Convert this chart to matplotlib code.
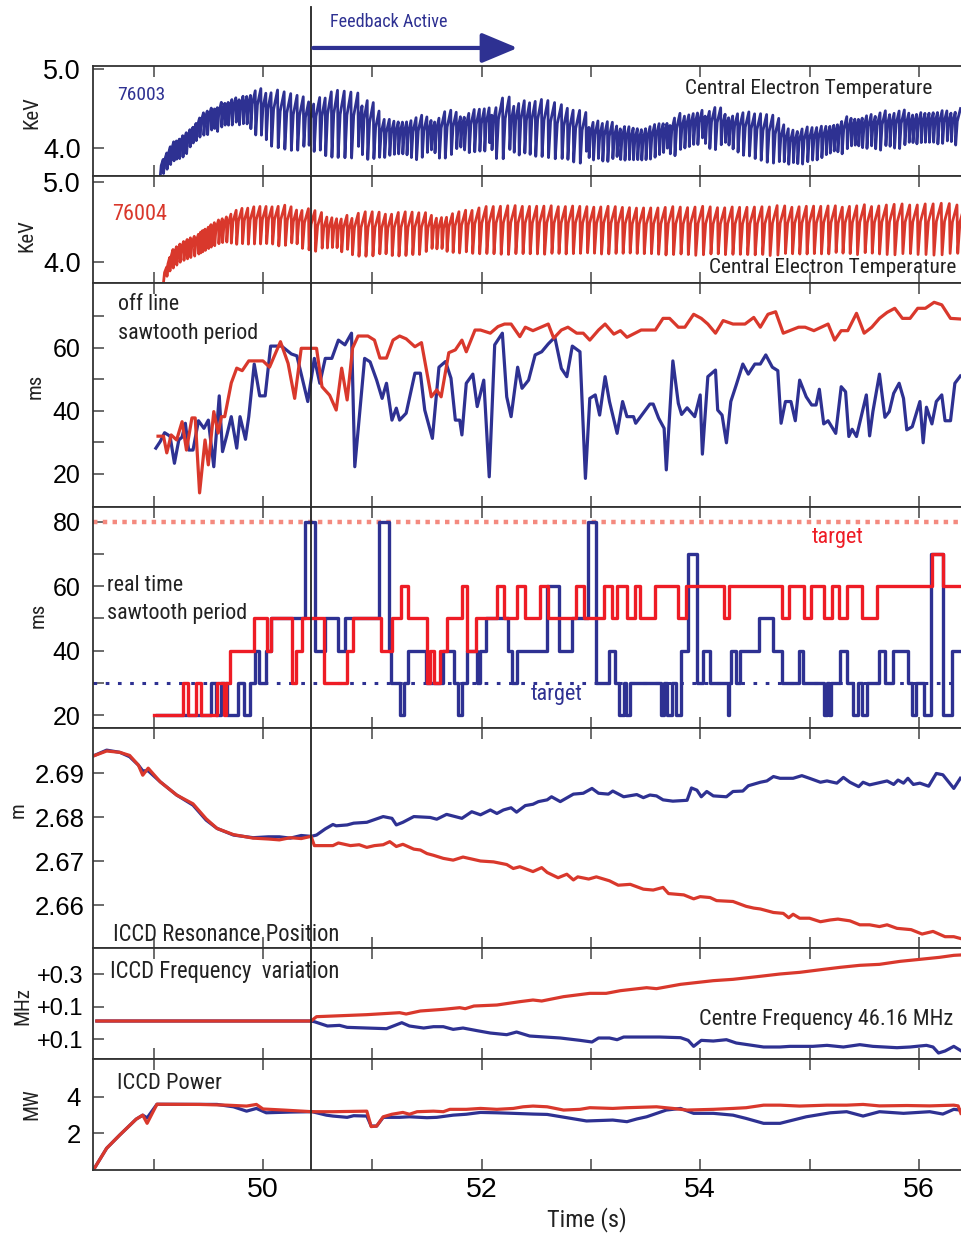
import numpy as np
import matplotlib.pyplot as plt
from matplotlib.transforms import blended_transform_factory
from matplotlib.patches import ArrowStyle

# Fonts: condensed face for annotations, regular face for numbers.
NARROW = ['Roboto Condensed', 'Liberation Sans Narrow', 'Liberation Sans']
plt.rcParams['font.family'] = ['Liberation Sans', 'DejaVu Sans']

BLUE = '#2e3192'
RED = '#d9382c'
RED_RT = '#ee1c25'
RED_TARGET = '#f48a7f'
INK = '#222222'

# Time window and start of feedback (s)
t_min, t_max = 48.445, 56.386
t_feedback = 50.44
feedback_arrow_end = 52.33

# Central electron temperature envelopes (keV), shot 76003
te_blue_t = [49.06, 49.15, 49.29, 49.42, 49.56, 49.70, 49.88, 50.06, 50.25, 50.43,
             50.61, 50.89, 51.07, 51.44, 51.89, 52.17, 52.53, 52.99, 53.45, 53.72,
             54.00, 54.27, 54.64, 54.82, 55.10, 55.37, 55.73, 56.10, 56.38]
te_blue_hi = [3.91, 4.14, 4.27, 4.48, 4.60, 4.67, 4.73, 4.67, 4.60, 4.55,
              4.65, 4.60, 4.35, 4.38, 4.46, 4.57, 4.54, 4.35, 4.27, 4.39,
              4.50, 4.44, 4.35, 4.23, 4.29, 4.42, 4.46, 4.48, 4.48]
te_blue_lo = [3.58, 3.72, 3.85, 4.10, 4.16, 4.25, 4.25, 4.10, 4.04, 4.04,
              3.97, 3.95, 3.89, 3.89, 3.97, 3.94, 3.97, 3.85, 3.81, 3.91,
              4.04, 4.00, 3.87, 3.78, 3.85, 3.97, 4.00, 4.04, 4.06]

# Central electron temperature envelopes (keV), shot 76004
te_red_t = [49.09, 49.15, 49.25, 49.40, 49.55, 49.70, 49.90, 50.10, 50.30, 50.50,
            50.80, 51.20, 51.60, 52.00, 52.50, 53.00, 53.50, 54.00, 54.50, 55.00,
            55.50, 56.00, 56.39]
te_red_hi = [4.00, 4.25, 4.35, 4.45, 4.62, 4.70, 4.72, 4.72, 4.70, 4.62,
             4.62, 4.62, 4.62, 4.68, 4.68, 4.68, 4.66, 4.66, 4.66, 4.68,
             4.68, 4.68, 4.68]
te_red_lo = [3.68, 3.80, 3.92, 4.00, 4.10, 4.18, 4.20, 4.20, 4.18, 4.12,
             4.08, 4.08, 4.10, 4.12, 4.12, 4.12, 4.12, 4.12, 4.12, 4.12,
             4.13, 4.14, 4.14]

# Off-line sawtooth period (ms)
off_blue_t = [49.02, 49.06, 49.10, 49.15, 49.19, 49.23, 49.26, 49.29, 49.32, 49.36,
              49.41, 49.46, 49.50, 49.55, 49.60, 49.63, 49.67, 49.71, 49.76, 49.79,
              49.84, 49.87, 49.92, 49.97, 50.02, 50.07, 50.17, 50.26, 50.31, 50.41,
              50.47, 50.52, 50.57, 50.63, 50.69, 50.75, 50.81, 50.84, 50.93, 50.98,
              51.04, 51.09, 51.13, 51.18, 51.22, 51.25, 51.31, 51.39, 51.44, 51.48,
              51.55, 51.61, 51.67, 51.72, 51.76, 51.80, 51.82, 51.86, 51.92, 51.96,
              51.99, 52.02, 52.07, 52.12, 52.19, 52.23, 52.27, 52.33, 52.37, 52.43,
              52.49, 52.55, 52.61, 52.67, 52.73, 52.78, 52.83, 52.90, 52.95, 52.99,
              53.04, 53.08, 53.13, 53.17, 53.24, 53.29, 53.33, 53.39, 53.41, 53.54,
              53.57, 53.62, 53.67, 53.69, 53.75, 53.80, 53.83, 53.88, 53.95, 54.00,
              54.02, 54.07, 54.14, 54.16, 54.20, 54.24, 54.28, 54.33, 54.39, 54.44,
              54.50, 54.55, 54.60, 54.66, 54.71, 54.74, 54.78, 54.83, 54.87, 54.91,
              54.97, 55.02, 55.06, 55.09, 55.13, 55.17, 55.24, 55.29, 55.33, 55.36,
              55.39, 55.43, 55.52, 55.55, 55.58, 55.64, 55.69, 55.73, 55.77, 55.82,
              55.86, 55.89, 55.94, 56.01, 56.04, 56.07, 56.12, 56.16, 56.21, 56.24,
              56.29, 56.33, 56.38]
off_blue_v = [28.2, 30.3, 33.1, 32, 23.4, 30.8, 31.7, 36.1, 27.6, 27.6,
              36.9, 34.5, 37.1, 22.3, 44.8, 27.1, 32.4, 38.2, 28.2, 38.2,
              31, 38.2, 54.9, 44.8, 44.8, 60.6, 60.6, 58.1, 57.5, 43,
              56.7, 48.8, 56.7, 56.7, 62.5, 61, 64.7, 22.3, 56.7, 55.6,
              49.8, 44, 48.8, 37.1, 40.9, 37.1, 39.3, 52, 52, 40.3,
              31.3, 53.9, 55.7, 50.4, 37.1, 37.1, 32.4, 48.8, 51.7, 41.4,
              45.6, 49.8, 19.1, 61, 64.7, 44.5, 38.2, 53.9, 47.2, 49.8,
              57.8, 58.8, 61.3, 63.4, 53.5, 50.9, 60.6, 58.8, 18.6, 44,
              45.1, 38.7, 50.9, 43, 32.9, 43, 38.2, 38.2, 36.1, 42.2,
              42.2, 37.7, 34.5, 21.3, 55.9, 42.4, 38.9, 41, 38.2, 45.1,
              26.3, 50.9, 53, 40.3, 38.7, 29.9, 43, 48.3, 54.9, 51.7,
              54.9, 54.9, 57.8, 53.9, 52.8, 36.1, 43, 43, 36.9, 49.8,
              44.5, 41.9, 41.9, 46.9, 35.9, 36.9, 32.9, 47.7, 46.1, 31.9,
              34.2, 31.9, 45.1, 32.1, 39.8, 51.7, 38, 39.8, 45.6, 48.8,
              44, 34, 35, 43, 29.9, 41.2, 35.9, 43, 45.1, 36.9,
              36.9, 48.8, 51.1]

off_red_t = [49.04, 49.09, 49.12, 49.16, 49.21, 49.26, 49.30, 49.35, 49.38, 49.42,
             49.47, 49.50, 49.55, 49.59, 49.62, 49.65, 49.71, 49.76, 49.81, 49.87,
             50.00, 50.06, 50.16, 50.23, 50.29, 50.35, 50.49, 50.54, 50.61, 50.67,
             50.72, 50.77, 50.82, 50.87, 50.96, 51.02, 51.07, 51.13, 51.19, 51.25,
             51.31, 51.39, 51.45, 51.54, 51.59, 51.63, 51.70, 51.76, 51.82, 51.86,
             51.94, 51.99, 52.08, 52.15, 52.21, 52.27, 52.35, 52.40, 52.47, 52.61,
             52.66, 52.73, 52.79, 52.87, 52.93, 52.99, 53.07, 53.13, 53.21, 53.27,
             53.33, 53.46, 53.59, 53.66, 53.72, 53.80, 53.86, 53.94, 54.01, 54.07,
             54.14, 54.21, 54.30, 54.41, 54.49, 54.55, 54.62, 54.69, 54.76, 54.90,
             54.96, 55.04, 55.17, 55.23, 55.29, 55.35, 55.43, 55.50, 55.57, 55.64,
             55.71, 55.78, 55.85, 55.92, 55.99, 56.06, 56.14, 56.21, 56.29, 56.38]
off_red_v = [32, 32, 26.7, 32.4, 30.8, 36.6, 27.6, 37.8, 37.8, 14,
             30.8, 22.9, 39.8, 33, 38.2, 38.2, 48.9, 53.6, 52.8, 55.9,
             55.9, 53.9, 62, 55.1, 44, 59.9, 59.9, 47.7, 45, 40.3,
             53.6, 43.5, 60, 63.8, 63.8, 62.5, 56.8, 56.8, 62.5, 63.8,
             62.9, 60.4, 61.7, 44.5, 46.7, 44.5, 58.5, 59.4, 62.5, 58.8,
             65.7, 65.7, 64.7, 66.8, 67.6, 67.6, 63.6, 66.6, 65.5, 67.6,
             63.1, 65.7, 66.6, 64.7, 64.7, 62.5, 65.7, 67.6, 64.4, 65.5,
             63.4, 65.7, 65.7, 69.4, 69.4, 66.6, 66.6, 70.7, 69.4, 67.6,
             64.7, 68.7, 67.6, 67.6, 69.7, 66.6, 70.7, 71.5, 64.7, 66.6,
             66.6, 65.5, 67.6, 62.5, 65.5, 65.5, 71, 64.7, 66.6, 69.4,
             71.3, 72.6, 69.4, 69.4, 72.6, 72.6, 74.5, 73.7, 69.4, 69.2]

# Real-time sawtooth period (ms): level held from each time to the next
rt_blue_t = [49.03, 49.525, 49.57, 49.615, 49.675, 49.77, 49.83, 49.88, 49.925, 49.965,
             50.025, 50.075, 50.385, 50.48, 50.57, 50.69, 50.75, 51.06, 51.15, 51.17,
             51.25, 51.29, 51.33, 51.49, 51.65, 51.75, 51.78, 51.82, 51.87, 51.96,
             51.99, 52.04, 52.24, 52.28, 52.32, 52.60, 52.71, 52.83, 52.97, 53.05,
             53.17, 53.22, 53.26, 53.30, 53.32, 53.36, 53.64, 53.67, 53.70, 53.74,
             53.775, 53.82, 53.885, 53.97, 54.03, 54.09, 54.25, 54.265, 54.285, 54.33,
             54.36, 54.535, 54.665, 54.75, 54.905, 54.945, 55.13, 55.16, 55.175, 55.195,
             55.28, 55.34, 55.40, 55.44, 55.48, 55.53, 55.635, 55.695, 55.76, 55.90,
             55.94, 55.975, 56.05, 56.115, 56.225, 56.30, 56.39]
rt_blue_v = [20, 30, 20, 30, 20, 30, 20, 30, 40, 30,
             40, 50, 80, 40, 50, 40, 50, 80, 40, 30,
             20, 30, 40, 30, 40, 30, 20, 30, 40, 30,
             40, 50, 40, 30, 40, 60, 40, 50, 80, 30,
             40, 30, 20, 30, 20, 30, 20, 30, 20, 30,
             20, 40, 70, 30, 40, 30, 20, 30, 40, 30,
             40, 50, 40, 30, 40, 30, 20, 30, 20, 30,
             40, 30, 20, 30, 20, 30, 40, 30, 40, 30,
             20, 30, 20, 70, 20, 40, 40]
rt_red_t = [49.00, 49.265, 49.31, 49.385, 49.435, 49.575, 49.64, 49.66, 49.695, 49.92,
            50.04, 50.075, 50.265, 50.305, 50.36, 50.56, 50.765, 50.82, 51.08, 51.18,
            51.26, 51.33, 51.50, 51.53, 51.565, 51.62, 51.68, 51.82, 51.87, 51.95,
            52.14, 52.205, 52.325, 52.40, 52.53, 52.61, 52.86, 52.94, 53.12, 53.19,
            53.24, 53.33, 53.40, 53.45, 53.59, 53.80, 53.87, 54.22, 54.26, 54.75,
            54.81, 54.95, 55.01, 55.13, 55.21, 55.27, 55.34, 55.48, 55.62, 56.12,
            56.22, 56.39]
rt_red_v = [20, 30, 20, 30, 20, 30, 20, 30, 40, 50,
            40, 50, 30, 40, 50, 30, 40, 50, 40, 50,
            60, 50, 30, 40, 30, 40, 50, 60, 40, 50,
            60, 50, 60, 50, 60, 50, 60, 50, 60, 50,
            60, 50, 60, 50, 60, 50, 60, 50, 60, 50,
            60, 50, 60, 50, 60, 50, 60, 50, 60, 70,
            60, 60]
target_red = 80
target_blue = 30

# ICCD resonance position (m)
pos_blue_t = [48.43, 48.57, 48.69, 48.78, 48.86, 48.90, 48.95, 49.06, 49.21, 49.36,
              49.48, 49.58, 49.73, 49.91, 50.05, 50.15, 50.25, 50.35, 50.44, 50.49,
              50.57, 50.64, 50.67, 50.77, 50.83, 50.95, 51.10, 51.18, 51.22, 51.28,
              51.38, 51.53, 51.59, 51.68, 51.82, 51.91, 51.99, 52.08, 52.14, 52.20,
              52.27, 52.32, 52.40, 52.47, 52.52, 52.60, 52.64, 52.72, 52.84, 52.93,
              53.01, 53.07, 53.16, 53.20, 53.30, 53.42, 53.48, 53.54, 53.60, 53.66,
              53.75, 53.88, 53.92, 53.97, 54.01, 54.06, 54.12, 54.24, 54.30, 54.39,
              54.44, 54.55, 54.61, 54.67, 54.73, 54.85, 54.93, 55.00, 55.10, 55.16,
              55.25, 55.31, 55.37, 55.45, 55.49, 55.55, 55.71, 55.77, 55.81, 55.86,
              55.90, 55.95, 56.01, 56.09, 56.16, 56.22, 56.32, 56.38]
pos_blue_v = [2.6937, 2.6952, 2.6947, 2.6937, 2.6918, 2.6905, 2.6905, 2.6880, 2.6850, 2.6827,
              2.6793, 2.6774, 2.6759, 2.6753, 2.6755, 2.6755, 2.6752, 2.6758, 2.6756, 2.6759,
              2.6773, 2.6783, 2.6780, 2.6782, 2.6786, 2.6788, 2.6801, 2.6797, 2.6782, 2.6788,
              2.6801, 2.6799, 2.6795, 2.6806, 2.6797, 2.6812, 2.6805, 2.6816, 2.6808, 2.6816,
              2.6821, 2.6811, 2.6826, 2.6829, 2.6835, 2.6839, 2.6846, 2.6835, 2.6852, 2.6854,
              2.6865, 2.6854, 2.6852, 2.6859, 2.6846, 2.6851, 2.6844, 2.6850, 2.6848, 2.6839,
              2.6836, 2.6838, 2.6866, 2.6861, 2.6846, 2.6858, 2.6848, 2.6846, 2.6858, 2.6859,
              2.6871, 2.6879, 2.6882, 2.6892, 2.6888, 2.6888, 2.6894, 2.6888, 2.6879, 2.6882,
              2.6877, 2.6890, 2.6879, 2.6869, 2.6879, 2.6873, 2.6882, 2.6874, 2.6884, 2.6877,
              2.6888, 2.6874, 2.6877, 2.6870, 2.6899, 2.6896, 2.6865, 2.6888]
pos_red_t = [48.43, 48.57, 48.69, 48.78, 48.86, 48.90, 48.95, 49.06, 49.21, 49.36,
             49.48, 49.58, 49.73, 49.91, 50.05, 50.15, 50.25, 50.35, 50.44, 50.47,
             50.64, 50.69, 50.80, 50.88, 50.95, 51.02, 51.10, 51.16, 51.22, 51.28,
             51.38, 51.44, 51.50, 51.56, 51.65, 51.74, 51.83, 51.99, 52.11, 52.23,
             52.29, 52.35, 52.47, 52.55, 52.60, 52.70, 52.78, 52.84, 52.88, 52.98,
             53.05, 53.17, 53.25, 53.36, 53.48, 53.57, 53.66, 53.71, 53.85, 53.94,
             54.00, 54.09, 54.15, 54.30, 54.42, 54.49, 54.55, 54.67, 54.76, 54.81,
             54.85, 54.91, 55.00, 55.10, 55.19, 55.26, 55.37, 55.46, 55.55, 55.64,
             55.71, 55.80, 55.93, 56.03, 56.13, 56.24, 56.32, 56.38]
pos_red_v = [2.6937, 2.6950, 2.6947, 2.6940, 2.6918, 2.6895, 2.6911, 2.6880, 2.6850, 2.6830,
             2.6796, 2.6774, 2.6760, 2.6752, 2.6750, 2.6748, 2.6753, 2.6751, 2.6756, 2.6735,
             2.6735, 2.6741, 2.6735, 2.6737, 2.6731, 2.6735, 2.6737, 2.6744, 2.6733, 2.6738,
             2.6727, 2.6725, 2.6717, 2.6713, 2.6706, 2.6702, 2.6709, 2.6700, 2.6698, 2.6692,
             2.6683, 2.6687, 2.6676, 2.6685, 2.6674, 2.6662, 2.6670, 2.6657, 2.6664, 2.6659,
             2.6664, 2.6655, 2.6645, 2.6647, 2.6636, 2.6634, 2.6640, 2.6626, 2.6623, 2.6614,
             2.6619, 2.6617, 2.6610, 2.6608, 2.6597, 2.6593, 2.6591, 2.6583, 2.6581, 2.6571,
             2.6579, 2.6570, 2.6570, 2.6562, 2.6566, 2.6568, 2.6564, 2.6555, 2.6555, 2.6551,
             2.6555, 2.6547, 2.6544, 2.6534, 2.6540, 2.6528, 2.6528, 2.6524]

# ICCD frequency variation (MHz)
freq_blue_t = [48.48, 50.44, 50.47, 50.59, 50.70, 50.77, 50.95, 51.13, 51.27, 51.34,
               51.47, 51.56, 51.65, 51.74, 51.83, 51.96, 52.08, 52.23, 52.32, 52.44,
               52.72, 52.90, 53.01, 53.07, 53.17, 53.24, 53.30, 53.63, 53.82, 53.89,
               53.94, 54.01, 54.12, 54.24, 54.33, 54.58, 54.73, 54.82, 55.03, 55.16,
               55.31, 55.46, 55.58, 55.80, 55.92, 56.07, 56.13, 56.18, 56.24, 56.32,
               56.38]
freq_blue_v = [0.1554, 0.1554, 0.1533, 0.1400, 0.1420, 0.1359, 0.1338, 0.1318, 0.1502, 0.1400,
               0.1338, 0.1379, 0.1379, 0.1297, 0.1338, 0.1256, 0.1184, 0.1133, 0.1215, 0.1092,
               0.1031, 0.0959, 0.0908, 0.1031, 0.1031, 0.0979, 0.1061, 0.1061, 0.1041, 0.0959,
               0.0774, 0.0959, 0.0938, 0.0979, 0.0877, 0.0754, 0.0754, 0.0774, 0.0774, 0.0805,
               0.0754, 0.0826, 0.0774, 0.0733, 0.0754, 0.0805, 0.0754, 0.0569, 0.0631, 0.0774,
               0.0651]
freq_red_t = [48.48, 50.44, 50.49, 50.64, 50.95, 51.25, 51.31, 51.44, 51.65, 51.80,
              51.85, 51.93, 52.14, 52.35, 52.47, 52.55, 52.75, 52.99, 53.14, 53.27,
              53.51, 53.60, 53.82, 54.12, 54.30, 54.52, 54.73, 54.91, 55.13, 55.28,
              55.46, 55.64, 55.83, 56.01, 56.19, 56.32, 56.38]
freq_red_v = [0.1554, 0.1554, 0.1687, 0.1707, 0.1749, 0.1810, 0.1769, 0.1862, 0.1913, 0.1964,
              0.1933, 0.2015, 0.2046, 0.2149, 0.2200, 0.2169, 0.2303, 0.2405, 0.2405, 0.2487,
              0.2579, 0.2549, 0.2682, 0.2795, 0.2836, 0.2918, 0.3000, 0.3051, 0.3144, 0.3205,
              0.3267, 0.3297, 0.3390, 0.3451, 0.3513, 0.3574, 0.3585]

# ICCD power (MW)
pow_blue_t = [48.45, 48.57, 48.69, 48.84, 48.90, 48.94, 49.03, 49.58, 49.67, 49.73,
              49.85, 49.94, 50.03, 50.25, 50.45, 50.58, 50.64, 50.77, 50.83, 50.95,
              50.99, 51.04, 51.10, 51.25, 51.34, 51.50, 51.59, 51.74, 51.86, 51.99,
              52.14, 52.29, 52.47, 52.60, 52.78, 52.96, 53.20, 53.33, 53.42, 53.51,
              53.69, 53.82, 53.94, 54.12, 54.30, 54.42, 54.58, 54.73, 54.85, 54.97,
              55.19, 55.34, 55.49, 55.64, 55.86, 56.10, 56.22, 56.32, 56.38]
pow_blue_v = [0.0, 1.18, 1.91, 2.78, 3.0, 2.85, 3.6, 3.59, 3.51, 3.46,
              3.22, 3.37, 3.13, 3.17, 3.19, 3.0, 2.95, 2.88, 2.97, 2.95,
              2.40, 2.40, 2.88, 2.88, 2.91, 2.86, 2.88, 3.0, 3.05, 3.15,
              3.13, 3.10, 3.06, 3.04, 2.86, 2.68, 2.73, 2.64, 2.79, 2.91,
              3.28, 3.37, 3.10, 3.10, 3.0, 2.82, 2.55, 2.55, 2.73, 2.91,
              3.13, 3.19, 2.95, 3.19, 3.10, 3.19, 3.06, 3.32, 3.28]
pow_red_t = [48.45, 48.57, 48.69, 48.84, 48.90, 48.94, 49.03, 49.42, 49.67, 49.85,
             49.94, 50.00, 50.19, 50.45, 50.64, 50.95, 50.99, 51.04, 51.10, 51.18,
             51.28, 51.34, 51.41, 51.56, 51.65, 51.71, 51.86, 51.99, 52.14, 52.29,
             52.38, 52.47, 52.60, 52.75, 52.90, 52.99, 53.20, 53.33, 53.60, 53.75,
             53.88, 54.12, 54.30, 54.42, 54.58, 54.73, 54.91, 55.16, 55.34, 55.49,
             55.64, 55.89, 56.10, 56.32, 56.36, 56.385]
pow_red_v = [0.0, 1.18, 1.91, 2.78, 3.0, 2.55, 3.6, 3.59, 3.55, 3.50,
             3.59, 3.34, 3.28, 3.19, 3.19, 3.22, 2.37, 2.40, 2.91, 3.05,
             3.15, 3.05, 3.19, 3.22, 3.19, 3.32, 3.32, 3.37, 3.32, 3.37,
             3.46, 3.50, 3.46, 3.28, 3.32, 3.41, 3.37, 3.41, 3.46, 3.37,
             3.28, 3.32, 3.37, 3.41, 3.55, 3.55, 3.50, 3.55, 3.55, 3.59,
             3.51, 3.53, 3.51, 3.55, 3.51, 3.10]


# Build a sawtooth temperature trace: each tooth lasts one (off-line)
# sawtooth period, recovers quickly after the crash and then saturates.
def sawtooth_trace(env_t, env_hi, env_lo, per_t, per_ms, per_ref):
    ts, vs = [], []
    t = env_t[0]
    while t < env_t[-1]:
        p = np.interp(t, per_t, per_ms)
        hi = np.interp(t, env_t, env_hi)
        lo = np.interp(t, env_t, env_lo)
        mid, half = (hi + lo) / 2, (hi - lo) / 2
        f = np.clip(p / per_ref, 0.6, 1.25)
        bottom, peak = mid - half * f, mid + half * f
        dt = p / 1000.0
        ts += [t, t + 0.3 * dt, t + 0.9 * dt]
        vs += [bottom, bottom + 0.65 * (peak - bottom), peak]
        t += dt
    return ts, vs


W, H = 961, 1238
fig = plt.figure(figsize=(W / 100, H / 100), dpi=100)
fig.patch.set_facecolor('white')

# panel edges in pixels (top of first to bottom of last)
edges = [66, 176, 283, 507, 728, 948, 1059, 1170]
axes = []
for i in range(7):
    top, bot = edges[i], edges[i + 1]
    ax = fig.add_axes([93 / W, 1 - bot / H, (W - 93) / W, (bot - top) / H])
    ax.set_xlim(t_min, t_max)
    ax.spines['right'].set_visible(False)
    for s in ['left', 'top', 'bottom']:
        ax.spines[s].set_color('#333333')
        ax.spines[s].set_linewidth(1.3)
    ax.set_xticks(range(49, 57))
    ax.tick_params(axis='x', direction='in', length=8, width=1.1, color='#444444',
                   top=True, bottom=True, labelbottom=False, labelsize=20.5, pad=5)
    ax.tick_params(axis='y', direction='in', length=8, width=1.1, color='#444444',
                   left=True, right=False, pad=9)
    ax.axvline(t_feedback, color=INK, lw=1.3, zorder=5)
    axes.append(ax)

ax1, ax2, ax3, ax4, ax5, ax6, ax7 = axes

# --- Central electron temperature, 76003
tb, vb = sawtooth_trace(te_blue_t, te_blue_hi, te_blue_lo, off_blue_t, off_blue_v, 45)
ax1.plot(tb, vb, color=BLUE, lw=2.0, clip_on=False)
ax1.set_ylim(3.646, 5.038)
ax1.set_yticks([4.0, 5.0])
ax1.set_yticklabels(['4.0', '5.0'], fontsize=19.5)
ax1.text(48.664, 4.67, '76003', color=BLUE, fontsize=14, family=NARROW,
         ha='left', va='center')
ax1.text(56.121, 4.747, 'Central Electron Temperature', color=INK, fontsize=15.4,
         family=NARROW, ha='right', va='center')

# feedback marker above the first panel
ax1.axvline(t_feedback, ymin=1.0, ymax=1.536, color=INK, lw=1.3, clip_on=False)
trans = blended_transform_factory(ax1.transData, ax1.transAxes)
ax1.annotate('', xy=(feedback_arrow_end, 1.164), xytext=(t_feedback + 0.02, 1.164),
             xycoords=trans, textcoords=trans, annotation_clip=False,
             arrowprops=dict(arrowstyle=ArrowStyle('-|>', head_length=0.55, head_width=0.23),
                             mutation_scale=40, lw=3, color=BLUE,
                             shrinkA=0, shrinkB=0))
ax1.text(50.613, 1.4, 'Feedback Active', transform=trans, color=BLUE, fontsize=13.1,
         family=NARROW, ha='left', va='center')

# --- Central electron temperature, 76004
tr, vr = sawtooth_trace(te_red_t, te_red_hi, te_red_lo, off_red_t, off_red_v, 62)
ax2.plot(tr, vr, color=RED, lw=2.0, clip_on=False)
ax2.set_ylim(3.7375, 5.075)
ax2.set_yticks([4.0, 5.0])
ax2.set_yticklabels(['4.0', '5.0'], fontsize=19.5)
ax2.text(48.618, 4.6, '76004', color=RED, fontsize=16, family=NARROW,
         ha='left', va='center')
ax2.text(56.34, 3.925, 'Central Electron Temperature', color=INK, fontsize=15.4,
         family=NARROW, ha='right', va='center')

# --- off-line sawtooth period
ax3.plot(off_blue_t, off_blue_v, color=BLUE, lw=2.3)
ax3.plot(off_red_t, off_red_v, color=RED, lw=2.3)
ax3.set_ylim(9.52, 80.63)
ax3.set_yticks(range(20, 80, 10))
ax3.set_yticklabels(['20', '', '40', '', '60', ''], fontsize=18)
ax3.text(48.673, 73.65, 'off line', color=INK, fontsize=15.8, family=NARROW,
         ha='left', va='center')
ax3.text(48.673, 64.44, 'sawtooth period', color=INK, fontsize=15.8, family=NARROW,
         ha='left', va='center')

# --- real-time sawtooth period with targets
ax4.axhline(target_red, color=RED_TARGET, lw=3.2, ls=(0, (1, 1.2)))
ax4.axhline(target_blue, color=BLUE, lw=2.2, ls=(0, (1.2, 2.8)))
ax4.step(rt_blue_t, rt_blue_v, where='post', color=BLUE, lw=2.4)
ax4.step(rt_red_t, rt_red_v, where='post', color=RED_RT, lw=2.4)
ax4.set_ylim(15.96, 84.66)
ax4.set_yticks(range(20, 90, 10))
ax4.set_yticklabels(['20', '', '40', '', '60', '', '80'], fontsize=18)
ax4.text(48.573, 60.41, 'real time', color=INK, fontsize=15.8, family=NARROW,
         ha='left', va='center')
ax4.text(48.573, 51.4, 'sawtooth period', color=INK, fontsize=15.8, family=NARROW,
         ha='left', va='center')
ax4.text(55.26, 75.03, 'target', color=RED_RT, fontsize=16, family=NARROW,
         ha='center', va='center')
ax4.text(52.69, 26.22, 'target', color=BLUE, fontsize=16, family=NARROW,
         ha='center', va='center')

# --- ICCD resonance position
ax5.plot(pos_blue_t, pos_blue_v, color=BLUE, lw=2.3)
ax5.plot(pos_red_t, pos_red_v, color=RED, lw=2.3)
ax5.set_ylim(2.65023, 2.70023)
ax5.set_yticks([2.66, 2.67, 2.68, 2.69])
ax5.set_yticklabels(['2.66', '2.67', '2.68', '2.69'], fontsize=18.5)
ax5.tick_params(axis='y', pad=6)
ax5.text(48.628, 2.6534, 'ICCD Resonance Position', color=INK, fontsize=16.3,
         family=NARROW, ha='left', va='center')

# --- ICCD frequency variation
ax6.plot(freq_blue_t, freq_blue_v, color=BLUE, lw=2.3)
ax6.plot(freq_red_t, freq_red_v, color=RED, lw=2.3)
ax6.set_ylim(0.0385, 0.38)
ax6.set_yticks([0.1, 0.2, 0.3])
ax6.set_yticklabels(['+0.1', '+0.1', '+0.3'], fontsize=17)
ax6.tick_params(axis='y', pad=7)
ax6.text(48.60, 0.3092, 'ICCD Frequency  variation', color=INK, fontsize=16.3,
         family=NARROW, ha='left', va='center')
ax6.text(56.313, 0.1615, 'Centre Frequency 46.16 MHz', color=INK, fontsize=16,
         family=NARROW, ha='right', va='center')

# --- ICCD power
ax7.plot(pow_blue_t, pow_blue_v, color=BLUE, lw=2.3)
ax7.plot(pow_red_t, pow_red_v, color=RED, lw=2.3)
ax7.set_ylim(-0.018, 6.09)
ax7.set_yticks([2, 4])
ax7.set_yticklabels(['2', '4'], fontsize=18.5)
ax7.text(48.664, 4.715, 'ICCD Power', color=INK, fontsize=16.2, family=NARROW,
         ha='left', va='center')
ax7.tick_params(axis='x', labelbottom=True)
ax7.set_xticklabels(['', '50', '', '52', '', '54', '', '56'])

# axis units down the left side
for label, px, py in [('KeV', 32, 113), ('KeV', 27, 236), ('ms', 35, 386), ('ms', 38, 615),
                      ('m', 18, 810), ('MHz', 23, 1006), ('MW', 32, 1104)]:
    fig.text(px / W, 1 - py / H, label, rotation=90, ha='center', va='center',
             fontsize=15, family=NARROW, color=INK)

fig.text(587 / W, 1 - 1220 / H, 'Time (s)', ha='center', va='center', fontsize=17.5,
         family=NARROW, color=INK)

fig.savefig('out.png', dpi=100)
